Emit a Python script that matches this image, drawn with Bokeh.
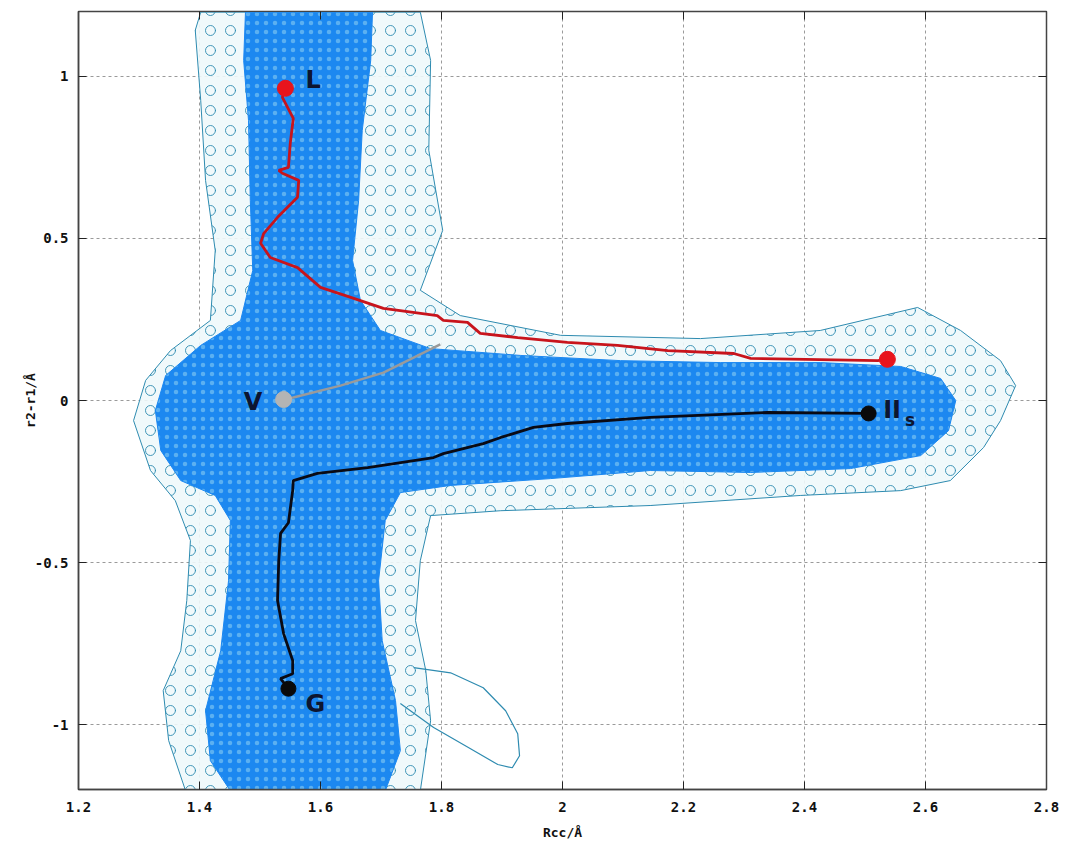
from bokeh.plotting import figure
from bokeh.models import LinearAxis, FixedTicker, Range1d
from bokeh.core.properties import value
from bokeh.embed import file_html
from bokeh.resources import INLINE

# ---- axis ticks ----
x_ticks = [1.2, 1.4, 1.6, 1.8, 2.0, 2.2, 2.4, 2.6, 2.8]
x_tick_labels = ["1.2", "1.4", "1.6", "1.8", "2", "2.2", "2.4", "2.6", "2.8"]
y_ticks = [-1.0, -0.5, 0.0, 0.5, 1.0]
y_tick_labels = ["-1", "-0.5", "0", "0.5", "1"]

# ---- dense core of the trajectory cloud (outline) ----
core_x = [1.476, 1.686, 1.683, 1.669, 1.663, 1.653, 1.666, 1.699, 1.782, 1.931, 2.096, 2.261,
          2.426, 2.559, 2.625, 2.650, 2.638, 2.592, 2.476, 2.311, 2.145, 1.980, 1.815, 1.732,
          1.707, 1.696, 1.702, 1.724, 1.732, 1.707, 1.451, 1.418, 1.410, 1.435, 1.448, 1.451,
          1.426, 1.369, 1.336, 1.327, 1.344, 1.402, 1.468, 1.488, 1.484, 1.481, 1.473]
core_y = [1.198, 1.198, 1.049, 0.833, 0.617, 0.432, 0.309, 0.216, 0.160, 0.139, 0.123, 0.117,
          0.117, 0.105, 0.068, 0.0, -0.093, -0.170, -0.210, -0.222, -0.216, -0.241, -0.262, -0.284,
          -0.370, -0.556, -0.741, -0.926, -1.080, -1.204, -1.204, -1.111, -0.957, -0.772, -0.556, -0.370,
          -0.293, -0.247, -0.154, -0.031, 0.077, 0.170, 0.247, 0.401, 0.617, 0.864, 1.049]

# ---- loose outer envelope of the trajectory cloud ----
outer_x = [1.402, 1.765, 1.782, 1.779, 1.802, 1.765, 1.831, 1.997, 2.228, 2.426, 2.587, 2.658,
           2.724, 2.749, 2.724, 2.696, 2.641, 2.559, 2.393, 2.145, 1.898, 1.782, 1.765, 1.757,
           1.774, 1.782, 1.765, 1.377, 1.349, 1.340, 1.369, 1.379, 1.385, 1.360, 1.319, 1.291,
           1.311, 1.352, 1.418, 1.426, 1.410, 1.402, 1.393]
outer_y = [1.198, 1.198, 1.049, 0.772, 0.525, 0.340, 0.262, 0.201, 0.191, 0.216, 0.287, 0.216,
           0.123, 0.046, -0.062, -0.145, -0.247, -0.278, -0.293, -0.324, -0.340, -0.355, -0.494, -0.679,
           -0.833, -0.988, -1.204, -1.204, -1.049, -0.895, -0.772, -0.617, -0.432, -0.309, -0.216, -0.062,
           0.062, 0.154, 0.247, 0.463, 0.679, 0.926, 1.142]

# ---- the long excursion loop near G ----
loop_x = [1.754, 1.815, 1.869, 1.906, 1.926, 1.929, 1.917, 1.893, 1.848, 1.787, 1.732]
loop_y = [-0.824, -0.840, -0.886, -0.957, -1.028, -1.096, -1.133, -1.123, -1.074, -1.009, -0.935]

# ---- red path L -> IIs ----
red_x = [1.542, 1.537, 1.555, 1.550, 1.547, 1.531, 1.537, 1.564, 1.562, 1.529, 1.506, 1.501,
         1.517, 1.562, 1.600, 1.650, 1.704, 1.793, 1.803, 1.843, 1.864, 1.926, 2.008, 2.091,
         2.174, 2.283, 2.311, 2.521, 2.537]
red_y = [0.963, 0.935, 0.870, 0.793, 0.719, 0.710, 0.701, 0.679, 0.627, 0.565, 0.515, 0.485,
         0.441, 0.410, 0.349, 0.318, 0.284, 0.262, 0.247, 0.241, 0.207, 0.194, 0.179, 0.170,
         0.154, 0.145, 0.130, 0.123, 0.127]

# ---- black path G -> IIs ----
black_x = [1.547, 1.534, 1.554, 1.554, 1.539, 1.529, 1.531, 1.534, 1.547, 1.554, 1.555, 1.595,
           1.678, 1.787, 1.803, 1.869, 1.898, 1.952, 2.008, 2.145, 2.339, 2.506]
black_y = [-0.889, -0.858, -0.843, -0.802, -0.719, -0.617, -0.494, -0.410, -0.377, -0.278, -0.247, -0.225,
           -0.207, -0.176, -0.164, -0.133, -0.114, -0.083, -0.071, -0.052, -0.037, -0.040]

# ---- gray path from V ----
gray_x = [1.539, 1.555, 1.633, 1.704, 1.798]
gray_y = [0.003, 0.009, 0.046, 0.086, 0.173]

# ---- end-point markers ----
red_pts_x = [1.542, 2.537]
red_pts_y = [0.963, 0.127]
black_pts_x = [1.547, 2.506]
black_pts_y = [-0.889, -0.040]
gray_pts_x = [1.539]
gray_pts_y = [0.003]

# ---- state labels ----
label_text = ["L", "V", "G", "II"]
label_x = [1.575, 1.473, 1.575, 2.530]
label_y = [0.988, -0.006, -0.935, -0.030]
sub_text = ["s"]
sub_x = [2.566]
sub_y = [-0.060]

p = figure(frame_width=968, frame_height=778, output_backend="svg", toolbar_location=None,
           x_range=Range1d(1.2, 2.8), y_range=Range1d(-1.2, 1.2),
           min_border_left=78, min_border_top=11, min_border_right=15, min_border_bottom=50,
           background_fill_color="white", border_fill_color="white")

p.outline_line_color = "#444444"
p.outline_line_width = 1.5

for ax in (p.xaxis, p.yaxis):
    ax.major_label_text_font = "DejaVu Sans Mono"
    ax.major_label_text_font_style = "bold"
    ax.major_label_text_font_size = "14px"
    ax.major_label_text_color = "#111111"
    ax.major_tick_in = 8
    ax.major_tick_out = 0
    ax.minor_tick_line_color = None
    ax.major_tick_line_color = "#222222"
    ax.axis_line_color = "#444444"
    ax.axis_line_width = 1.5
    ax.axis_label_text_font = "DejaVu Sans Mono"
    ax.axis_label_text_font_style = "bold"
    ax.axis_label_text_font_size = "13px"
    ax.axis_label_text_color = "#111111"

p.xaxis.ticker = FixedTicker(ticks=x_ticks)
p.yaxis.ticker = FixedTicker(ticks=y_ticks)
p.xaxis.major_label_overrides = dict(zip(x_ticks, x_tick_labels))
p.yaxis.major_label_overrides = dict(zip(y_ticks, y_tick_labels))
p.xaxis.axis_label = "Rcc/Å"
p.yaxis.axis_label = "r2-r1/Å"
p.xaxis.major_label_standoff = 12
p.yaxis.major_label_standoff = 10
p.xaxis.axis_label_standoff = 10
p.yaxis.axis_label_standoff = -6

# mirror ticks (no labels)
right = LinearAxis(ticker=FixedTicker(ticks=y_ticks), major_label_text_font_size="0px",
                   major_label_text_color=None,
                   major_tick_in=8, major_tick_out=0, minor_tick_line_color=None,
                   axis_line_color="#444444", major_tick_line_color="#222222")
top = LinearAxis(ticker=FixedTicker(ticks=x_ticks), major_label_text_font_size="0px",
                 major_label_text_color=None,
                 major_tick_in=8, major_tick_out=0, minor_tick_line_color=None,
                 axis_line_color="#444444", major_tick_line_color="#222222")
p.add_layout(right, "right")
p.add_layout(top, "above")

p.grid.grid_line_color = "#9a9a9a"
p.grid.grid_line_dash = "3 3"
p.grid.grid_line_width = 1
p.xgrid.ticker = FixedTicker(ticks=x_ticks)
p.ygrid.ticker = FixedTicker(ticks=y_ticks)

# loose outer region: loops
p.patch(outer_x, outer_y, fill_color="#eef8fb", fill_alpha=0.9,
        line_color="#2e8bb0", line_width=1,
        hatch_pattern="ring", hatch_color="#2e8bb0", hatch_scale=20, hatch_weight=1, hatch_alpha=0.9)
# dense core
p.patch(core_x, core_y, fill_color="#1c88f0", line_color="#1c88f0", line_width=1,
        hatch_pattern="dot", hatch_color="#b8eaf2", hatch_scale=9, hatch_weight=1.2, hatch_alpha=0.4)
p.line(loop_x, loop_y, line_color="#2e8bb0", line_width=1.2)

# paths
p.line(gray_x, gray_y, line_color="#9a9a9a", line_width=2.5)
p.line(red_x, red_y, line_color="#c8141c", line_width=2.8)
p.line(black_x, black_y, line_color="#0a0a14", line_width=2.8)

p.scatter(red_pts_x, red_pts_y, size=16, color="#e8141c")
p.scatter(black_pts_x, black_pts_y, size=15, color="#0a0a0a")
p.scatter(gray_pts_x, gray_pts_y, size=16, color="#b4b4b4")

p.text(label_x, label_y, text=label_text, text_font=value("DejaVu Sans"), text_font_style="bold",
       text_font_size="24px", text_color="#0d1530", text_baseline="middle", text_align="left")
p.text(sub_x, sub_y, text=sub_text, text_font=value("DejaVu Sans"), text_font_style="bold",
       text_font_size="17px", text_color="#0d1530", text_baseline="middle", text_align="left")

open("out.html", "w").write(file_html(p, INLINE))
